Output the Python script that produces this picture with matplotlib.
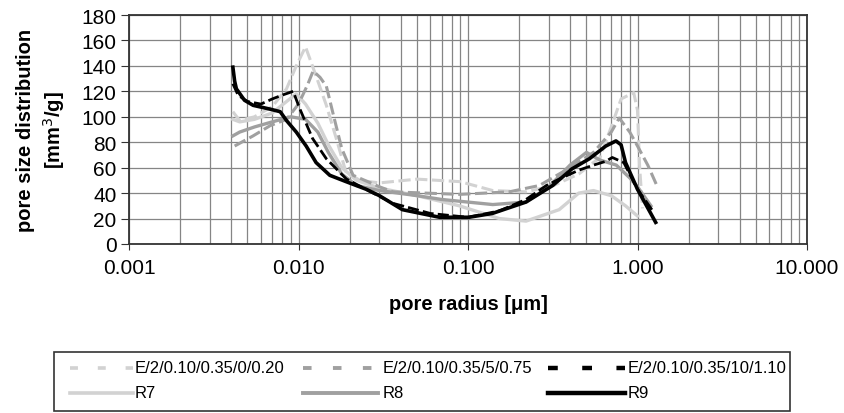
"""
Pore size distribution of six mixes (E/... series dashed, R7-R9 solid).
Output: out.png
"""

import matplotlib.pyplot as plt
import numpy as np
from matplotlib.lines import Line2D
from matplotlib.patches import Rectangle
from matplotlib.ticker import FixedLocator, LogLocator, NullFormatter

plt.rcParams['font.family'] = ['Liberation Sans', 'DejaVu Sans']

LIGHT, MID, DARK, GRID = '#d2d2d2', '#a0a0a0', '#000000', '#858585'

# ---------------------------------------------------------------- data
r_e0 = [0.0041, 0.0045, 0.0055, 0.007, 0.0085, 0.0097, 0.011, 0.0127, 0.0146,
        0.0167, 0.019, 0.023, 0.03, 0.05, 0.09, 0.14, 0.22, 0.32, 0.45, 0.6,
        0.7, 0.8, 0.95, 1.0, 1.03, 1.07]
v_e0 = [104, 97, 100, 108, 122, 140, 155, 132, 109, 83, 57, 50, 48, 51, 49,
        42, 41, 46, 55, 68, 92, 114, 119, 105, 60, 28]

r_r7 = [0.0041, 0.0045, 0.0055, 0.007, 0.0085, 0.0097, 0.011, 0.013, 0.015,
        0.018, 0.022, 0.03, 0.05, 0.089, 0.153, 0.22, 0.345, 0.45, 0.55, 0.7,
        0.85, 1.0]
v_r7 = [98, 96, 98, 103, 112, 118, 110, 95, 78, 60, 50, 44, 38, 30, 20, 18,
        27, 40, 42, 38, 30, 22]

r_e5 = [0.0042, 0.0054, 0.0068, 0.0085, 0.01, 0.0113, 0.0122, 0.0134, 0.0146,
        0.0163, 0.018, 0.021, 0.03, 0.036, 0.089, 0.175, 0.264, 0.4, 0.55,
        0.7, 0.78, 0.9, 1.0, 1.15, 1.3]
v_e5 = [77, 85, 93, 98, 110, 125, 136, 131, 124, 98, 75, 54, 45, 41, 39, 41,
        46, 60, 72, 88, 99, 88, 77, 62, 46]

r_r8 = [0.0041, 0.0045, 0.0055, 0.007, 0.009, 0.011, 0.013, 0.015, 0.018,
        0.022, 0.03, 0.05, 0.07, 0.14, 0.22, 0.3, 0.4, 0.5, 0.6, 0.75, 0.9,
        1.0, 1.2]
v_r8 = [85, 88, 92, 96, 100, 98, 88, 72, 55, 46, 42, 38, 35, 31, 33, 45, 62,
        72, 66, 62, 52, 45, 30]

r_e10 = [0.0041, 0.0044, 0.005, 0.006, 0.007, 0.008, 0.0093, 0.0102, 0.0121,
         0.0146, 0.0192, 0.025, 0.036, 0.06, 0.1, 0.153, 0.22, 0.29, 0.345,
         0.45, 0.55, 0.65, 0.71, 0.83, 1.0, 1.23]
v_e10 = [126, 117, 112, 110, 114, 117, 120, 106, 83, 67, 51, 43, 32, 24, 21,
         26, 35, 46, 51, 58, 62, 65, 68, 64, 43, 26]

r_r9 = [0.0041, 0.0042, 0.0043, 0.0048, 0.0054, 0.0068, 0.0078, 0.0085,
        0.0097, 0.0111, 0.0127, 0.0153, 0.0191, 0.0251, 0.03, 0.041, 0.068,
        0.101, 0.139, 0.22, 0.316, 0.41, 0.52, 0.65, 0.746, 0.8, 0.85, 1.0,
        1.28]
v_r9 = [139, 128, 122, 113, 109, 106, 104, 97, 88, 77, 64, 54, 49, 43, 38,
        27, 21, 21, 24, 33, 46, 59, 67, 77, 81, 78, 64, 43, 17]

labels_e = ['E/2/0.10/0.35/0/0.20', 'E/2/0.10/0.35/5/0.75',
            'E/2/0.10/0.35/10/1.10']
labels_r = ['R7', 'R8', 'R9']

W, H = 844, 414
fig = plt.figure(figsize=(W / 100, H / 100), dpi=100)
ax = fig.add_axes([129 / W, 1 - 245 / H, 678 / W, 229 / H])

dash = (0, (4, 1.5))
ax.plot(r_e0, v_e0, color=LIGHT, lw=2.2, ls=dash)
ax.plot(r_r7, v_r7, color=LIGHT, lw=2.4)
ax.plot(r_e5, v_e5, color=MID, lw=2.2, ls=dash)
ax.plot(r_r8, v_r8, color=MID, lw=2.4)
ax.plot(r_e10, v_e10, color=DARK, lw=2.0, ls=dash)
ax.plot(r_r9, v_r9, color=DARK, lw=2.6)

ax.set_xscale('log')
ax.set_xlim(0.001, 10)
ax.set_ylim(0, 180)
ax.yaxis.set_major_locator(FixedLocator(np.arange(0, 181, 20)))
ax.xaxis.set_major_locator(FixedLocator([0.001, 0.01, 0.1, 1, 10]))
ax.set_xticklabels(['0.001', '0.010', '0.100', '1.000', '10.000'])
ax.xaxis.set_minor_locator(LogLocator(base=10, subs=np.arange(2, 10)))
ax.xaxis.set_minor_formatter(NullFormatter())
ax.tick_params(axis='x', which='minor', length=0)
ax.tick_params(axis='x', which='major', labelsize=15, length=4, pad=6,
               color='#333333')
ax.tick_params(axis='y', which='major', labelsize=15, length=6, pad=3,
               color='#333333')

ax.grid(True, which='both', color=GRID, lw=0.9)
ax.set_axisbelow(True)
for s in ax.spines.values():
    s.set_color('#333333')
    s.set_linewidth(1.3)

ax.set_xlabel('pore radius [\u03bcm]', fontsize=14.5, fontweight='bold',
              va='center')
ax.xaxis.set_label_coords(0.5, -0.262)
ax.set_ylabel('pore size distribution\n[mm$^3$/g]', fontsize=14.5,
              fontweight='bold', va='center', ha='center', linespacing=1.3)
ax.yaxis.set_label_coords(-0.1295, 0.5)

# ---------------------------------------------------------------- legend box
def fx(px):
    return px / W


def fy(py):
    return 1 - py / H


fig.add_artist(Rectangle((fx(54), fy(412)), fx(790) - fx(54),
                         fy(353) - fy(412), transform=fig.transFigure,
                         facecolor='white', edgecolor='#333333', lw=1.2))

rows = [369, 394]
cols = [(70, 133, 135), (303, 378, 383), (548, 625, 628)]
styles = [(LIGHT, 2.6), (MID, 2.8), (DARK, 3.2)]
for i, (x0, x1, xt) in enumerate(cols):
    c, lw = styles[i]
    fig.add_artist(Line2D([fx(x0), fx(x1)], [fy(rows[0])] * 2,
                          transform=fig.transFigure, color=c, lw=lw,
                          ls=(0, (2.2, 5.5))))
    fig.text(fx(xt), fy(rows[0]), labels_e[i], ha='left', va='center',
             fontsize=12, color='black')
    fig.add_artist(Line2D([fx(x0), fx(x1)], [fy(rows[1])] * 2,
                          transform=fig.transFigure, color=c, lw=lw))
    fig.text(fx(xt), fy(rows[1]), labels_r[i], ha='left', va='center',
             fontsize=12, color='black')

fig.savefig('out.png', dpi=100)
